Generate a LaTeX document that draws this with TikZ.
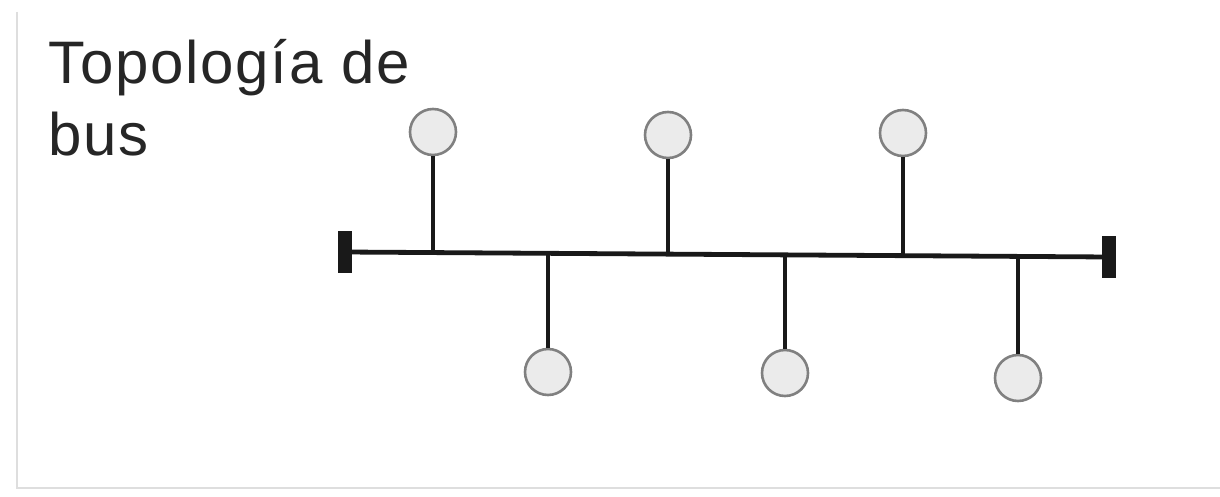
\documentclass[tikz,border=0pt]{standalone}
\usepackage{fontspec}
\setmainfont{Liberation Sans}[LetterSpace=3]
\begin{document}
\begin{tikzpicture}[x=1pt,y=-1pt,
  station/.style={circle,draw=black!50,fill=black!8,line width=2.6pt,minimum size=46pt,inner sep=0pt},
  stem/.style={line width=4.5pt,black!90},
  busline/.style={line width=4.8pt,black!90},
  term/.style={fill=black!90,draw=none,minimum width=14pt,minimum height=42pt,inner sep=0pt},
  frame/.style={line width=2.5pt,black!13},
  title/.style={anchor=base west,inner sep=0pt,text=black!85,font=\fontsize{60}{70}\selectfont}]
\useasboundingbox[fill=white] (0,0) rectangle (1220,497);
\draw[frame] (17,12) -- (17,488) -- (1220,488);
\node[title] (t1) at (48,84) {Topología de};
\node[title] (t2) at (48,156) {bus};
% bus ends
\node[term] (termL) at (345,252) {};
\node[term] (termR) at (1109,257) {};
\draw[busline] (termL.center) -- (termR.center);
% taps
\coordinate (p1) at (433,252.6);
\coordinate (p2) at (548,253.3);
\coordinate (p3) at (668,254.1);
\coordinate (p4) at (785,254.9);
\coordinate (p5) at (903,255.6);
\coordinate (p6) at (1018,256.4);
\node[station] (s1) at (433,132) {};
\node[station] (s2) at (548,372) {};
\node[station] (s3) at (668,135) {};
\node[station] (s4) at (785,373) {};
\node[station] (s5) at (903,133) {};
\node[station] (s6) at (1018,378) {};
\draw[stem] (p1) -- (s1);
\draw[stem] (p2) -- (s2);
\draw[stem] (p3) -- (s3);
\draw[stem] (p4) -- (s4);
\draw[stem] (p5) -- (s5);
\draw[stem] (p6) -- (s6);
\end{tikzpicture}
\end{document}
